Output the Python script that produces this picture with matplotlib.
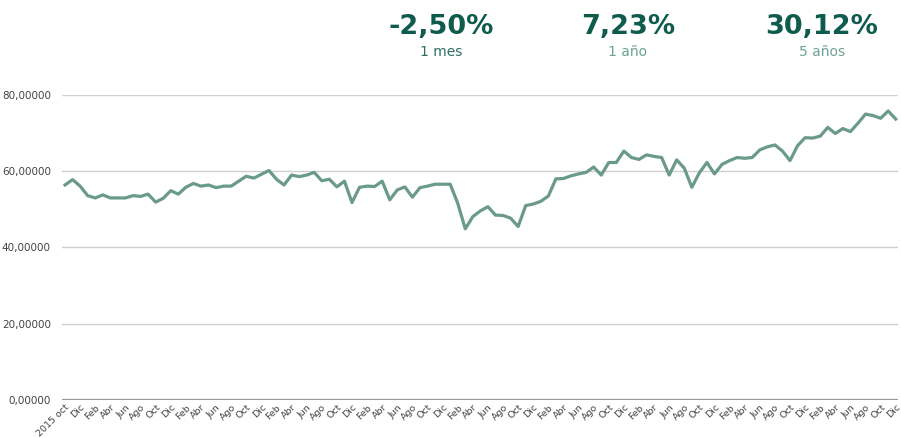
import matplotlib
matplotlib.use("Agg")
import matplotlib.pyplot as plt

# monthly values, 2015 oct .. 2024 dic
values = [
    56.4, 57.8, 56.1, 53.6, 53.0, 53.8, 53.0, 53.0, 53.0, 53.6,
    53.4, 54.0, 51.9, 52.9, 54.9, 54.0, 55.8, 56.8, 56.1, 56.4,
    55.7, 56.1, 56.1, 57.4, 58.7, 58.2, 59.2, 60.2, 57.9, 56.4,
    59.0, 58.6, 59.0, 59.7, 57.5, 57.9, 55.9, 57.4, 51.8, 55.8,
    56.1, 56.0, 57.4, 52.5, 55.1, 55.9, 53.2, 55.7, 56.1, 56.6,
    56.6, 56.6, 51.6, 44.9, 48.1, 49.6, 50.7, 48.5, 48.4, 47.7,
    45.5, 51.0, 51.4, 52.1, 53.5, 58.0, 58.1, 58.8, 59.3, 59.7,
    61.1, 59.0, 62.3, 62.3, 65.3, 63.6, 63.1, 64.3, 63.9, 63.6,
    59.0, 63.0, 60.8, 55.8, 59.6, 62.3, 59.3, 61.8, 62.8, 63.6,
    63.4, 63.6, 65.6, 66.4, 66.9, 65.3, 62.8, 66.7, 68.8, 68.7,
    69.2, 71.5, 69.9, 71.2, 70.4, 72.6, 75.0, 74.6, 73.9, 75.8,
    73.7,
]
tick_labels = ["2015 oct"] + (["Dic", "Feb", "Abr", "Jun", "Ago", "Oct"] * 10)[:55]
y_ticks = [0, 20, 40, 60, 80]

headline_values = ["-2,50%", "7,23%", "30,12%"]
headline_periods = ["1 mes", "1 año", "5 años"]

line_color = "#6a9a8b"
dark_green = "#0f5c4e"

fig = plt.figure(figsize=(9.01, 4.38), dpi=100)
ax = fig.add_axes([62 / 901, 38 / 438, 836 / 901, 305 / 438])

x = list(range(len(values)))
ax.plot(x, values, color=line_color, lw=2.3, solid_joinstyle="round", zorder=3)

ax.set_xlim(-0.4, len(values) - 1 + 0.3)
ax.set_ylim(0, 80)
ax.set_yticks(y_ticks)
ax.set_yticklabels([f"{v:.5f}".replace(".", ",") for v in y_ticks])
ax.set_xticks(x[::2])
ax.set_xticklabels(tick_labels, rotation=45, ha="right", rotation_mode="anchor")

ax.grid(axis="y", color="#cfcfcf", lw=1.0)
ax.axhline(0, color="#9a9a9a", lw=1.6, zorder=2)
for s in ax.spines.values():
    s.set_visible(False)
ax.tick_params(axis="both", length=0, labelcolor="#444444")
ax.tick_params(axis="y", pad=8, labelsize=7.5)
ax.tick_params(axis="x", pad=2, labelsize=6.8)

centers = [441, 628, 822]
sub_colors = ["#2f6f62", "#6fa295", "#6fa295"]
for cx, val, per, sc in zip(centers, headline_values, headline_periods, sub_colors):
    fig.text(cx / 901, 1 - 27 / 438, val, ha="center", va="center",
             fontsize=19.5, fontweight="bold", color=dark_green)
    fig.text(cx / 901, 1 - 52 / 438, per, ha="center", va="center",
             fontsize=10, color=sc)

fig.savefig("out.png", dpi=100)
